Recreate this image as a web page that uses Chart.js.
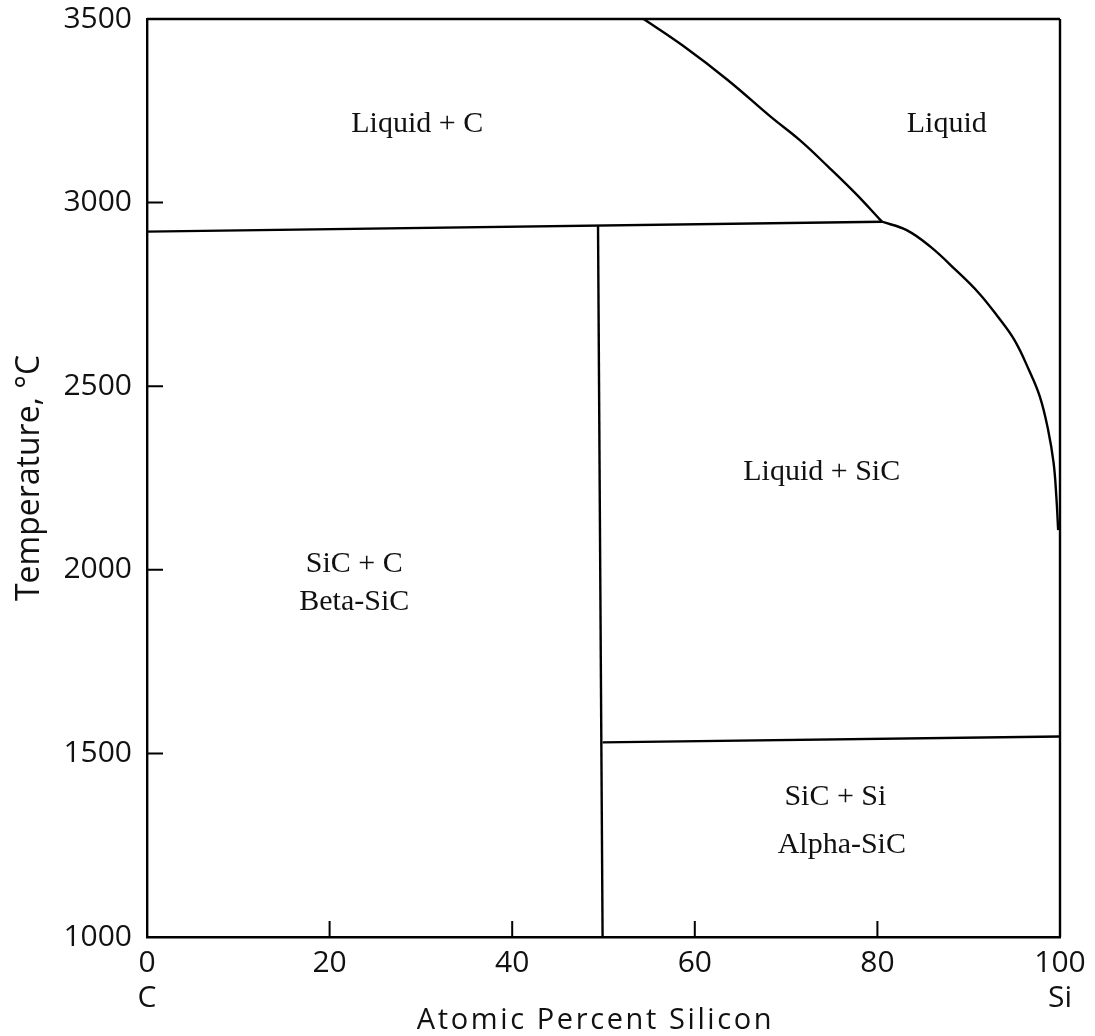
<!DOCTYPE html>
<html>
<head>
<meta charset="utf-8">
<script src="https://cdn.jsdelivr.net/npm/chart.js@4.4.1/dist/chart.umd.min.js"></script>
<style>
  html, body { margin: 0; padding: 0; background: #ffffff; }
  #wrap { width: 1095px; height: 1036px; position: relative; }
</style>
</head>
<body>
<div id="wrap"><canvas id="c"></canvas></div>
<script>
// ---- data (atomic % Si, temperature °C) ----
const xTickValues = [0, 20, 40, 60, 80, 100];
const xTickLabels = [['0', 'C'], ['20'], ['40'], ['60'], ['80'], ['100', 'Si']];
const yTickValues = [1000, 1500, 2000, 2500, 3000, 3500];
const yTickLabels = ['1000', '1500', '2000', '2500', '3000', '3500'];

const upperTieX = [0, 80.5];
const upperTieT = [2921, 2948];

const liquidusUpperX = [54.4, 58.6, 63.6, 68.3, 71.5, 74.6, 77.6, 80.5];
const liquidusUpperT = [3500, 3429, 3334, 3234, 3170, 3098, 3025, 2948];

const liquidusLowerX = [80.5, 83.2, 85.8, 88.6, 91.1, 93.2, 95.0, 96.6, 97.8, 98.7, 99.3, 99.6, 99.8];
const liquidusLowerT = [2948, 2925, 2880, 2816, 2754, 2689, 2626, 2544, 2471, 2381, 2291, 2199, 2108];

const sicLineX = [49.4, 49.9];
const sicLineT = [2936, 1000];

const lowerTieX = [49.9, 100];
const lowerTieT = [1530, 1546];

const regionNames = ['Liquid + C', 'Liquid', 'SiC + C', 'Beta-SiC', 'Liquid + SiC', 'SiC + Si', 'Alpha-SiC'];
const regionX = [29.6, 87.6, 22.7, 22.7, 73.9, 75.4, 76.1];
const regionT = [3213, 3213, 2016, 1913, 2265, 1380, 1251];

const xTitle = 'Atomic Percent Silicon';
const yTitle = 'Temperature, °C';

// ---- helpers ----
function pts(xs, ys) { return xs.map((x, i) => ({ x: x, y: ys[i] })); }
function lineSet(xs, ys, curved) {
  return {
    data: pts(xs, ys),
    showLine: true,
    borderColor: '#000',
    borderWidth: 2.4,
    pointRadius: 0,
    fill: false,
    tension: curved ? 0.4 : 0
  };
}

const TICK_FONT = '"Open Sans", "DejaVu Sans", sans-serif';

const framePlugin = {
  id: 'frame',
  afterDatasetsDraw(chart) {
    const ctx = chart.ctx;
    const a = chart.chartArea;
    const xs = chart.scales.x, ys = chart.scales.y;
    ctx.save();
    ctx.strokeStyle = '#000';
    ctx.lineWidth = 2.4;
    ctx.beginPath();
    ctx.moveTo(a.left, a.top); ctx.lineTo(a.right, a.top);
    ctx.moveTo(a.right, a.top); ctx.lineTo(a.right, a.bottom);
    ctx.stroke();
    // inward ticks
    ctx.lineWidth = 2;
    ctx.beginPath();
    xTickValues.forEach(v => {
      if (v === xs.min || v === xs.max) return;
      const px = xs.getPixelForValue(v);
      ctx.moveTo(px, a.bottom); ctx.lineTo(px, a.bottom - 16);
    });
    yTickValues.forEach(v => {
      if (v === ys.min || v === ys.max) return;
      const py = ys.getPixelForValue(v);
      ctx.moveTo(a.left, py); ctx.lineTo(a.left + 16, py);
    });
    ctx.stroke();
    // region labels
    ctx.fillStyle = '#111';
    ctx.font = '30px "Liberation Serif", "Times New Roman", serif';
    ctx.textAlign = 'center';
    ctx.textBaseline = 'middle';
    regionNames.forEach((n, i) => {
      ctx.fillText(n, xs.getPixelForValue(regionX[i]), ys.getPixelForValue(regionT[i]));
    });
    // x axis title (letter-spaced)
    ctx.font = '29px ' + TICK_FONT;
    if ('letterSpacing' in ctx) ctx.letterSpacing = '2.6px';
    ctx.fillText(xTitle, (a.left + a.right) / 2 - 8, a.bottom + 84);
    ctx.restore();
  }
};

new Chart(document.getElementById('c'), {
  type: 'scatter',
  data: {
    datasets: [
      lineSet(upperTieX, upperTieT, false),
      lineSet(liquidusUpperX, liquidusUpperT, true),
      lineSet(liquidusLowerX, liquidusLowerT, true),
      lineSet(sicLineX, sicLineT, false),
      lineSet(lowerTieX, lowerTieT, false)
    ]
  },
  options: {
    responsive: true,
    maintainAspectRatio: false,
    animation: false,
    layout: { padding: { top: 19, right: 35, left: 0, bottom: 0 } },
    plugins: { legend: { display: false }, tooltip: { enabled: false } },
    scales: {
      x: {
        type: 'linear',
        min: 0, max: 100,
        afterBuildTicks(scale) { scale.ticks = xTickValues.map(v => ({ value: v })); },
        afterFit(scale) { scale.height = 99; scale.paddingLeft = 0; scale.paddingRight = 0; },
        grid: { display: false, drawTicks: false },
        border: { display: true, color: '#000', width: 2.4 },
        ticks: {
          color: '#111',
          padding: 9,
          maxRotation: 0,
          font: { family: TICK_FONT, size: 30, lineHeight: 1.17 },
          callback(v) { const i = xTickValues.indexOf(v); return i >= 0 ? xTickLabels[i] : ''; }
        },
        title: { display: false }
      },
      y: {
        type: 'linear',
        min: 1000, max: 3500,
        afterBuildTicks(scale) { scale.ticks = yTickValues.map(v => ({ value: v })); },
        afterFit(scale) { scale.width = 147; scale.paddingTop = 0; scale.paddingBottom = 0; },
        grid: { display: false, drawTicks: false },
        border: { display: true, color: '#000', width: 2.4 },
        ticks: {
          color: '#111',
          padding: 15,
          font: { family: TICK_FONT, size: 30 },
          callback(v) { const i = yTickValues.indexOf(v); return i >= 0 ? yTickLabels[i] : ''; }
        },
        title: {
          display: true,
          text: yTitle,
          color: '#111',
          font: { family: TICK_FONT, size: 32 },
          padding: { top: 11, bottom: 0 }
        }
      }
    }
  },
  plugins: [framePlugin]
});
</script>
</body>
</html>
